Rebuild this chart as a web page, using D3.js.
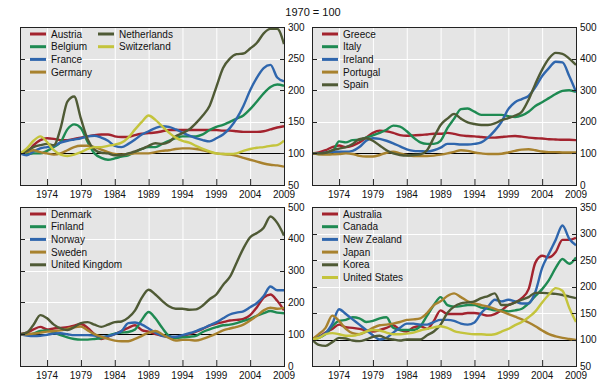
<!DOCTYPE html>
<html><head><meta charset="utf-8">
<script src="https://cdn.jsdelivr.net/npm/d3@7"></script>
<style>body{margin:0;background:#fff}svg{display:block;font-family:"Liberation Sans",Arial,sans-serif}</style>
</head><body>
<svg id="c" width="610" height="383"></svg>
<script>
const years = d3.range(1970, 2010);
const xTickYears = [1974, 1979, 1984, 1989, 1994, 1999, 2004, 2009];
const title = "1970 = 100";

// Panel 1
const austria = [100,102,113,121,124,123,121,121,123,125,127,129,130,130,127,126,126,129,131,132,133,135,137,137,137,137,137,137,137,137,136,136,135,134,134,134,135,138,141,143];
const belgium = [100,99,100,100,104,110,118,138,146,140,118,100,93,90,92,95,97,102,107,110,110,115,120,124,127,127,127,130,137,142,145,150,155,160,170,182,195,205,209,207];
const france = [100,97,103,108,110,112,117,120,122,124,127,128,125,120,112,110,115,122,130,135,140,143,142,138,133,128,124,121,119,124,130,140,155,175,200,220,235,240,220,214];
const germany = [100,102,105,102,100,98,100,105,110,112,112,110,106,102,99,98,99,100,100,100,102,104,105,107,108,108,107,105,102,100,99,98,96,93,90,87,84,82,81,79];
const netherlands = [100,104,110,113,115,113,140,182,190,155,122,106,101,100,97,97,100,103,107,112,116,115,118,127,132,138,148,160,175,205,235,250,257,258,266,275,290,297,297,273];
const switzerland = [100,108,120,127,118,105,98,96,98,102,107,110,110,112,114,117,125,138,150,160,153,143,133,125,120,117,112,107,103,100,99,99,100,104,107,109,110,112,113,120];

// Panel 2
const greece = [100,103,110,120,125,120,125,135,150,165,172,170,165,158,156,157,158,160,162,162,165,162,157,155,154,152,150,150,152,154,155,153,150,148,147,145,144,143,143,142];
const italy = [100,98,100,105,138,135,142,143,150,157,165,175,188,185,170,150,135,130,130,140,180,210,240,242,232,222,222,222,222,218,215,220,232,250,262,275,288,298,300,295];
const ireland = [100,100,103,105,105,105,108,120,140,148,146,140,132,122,113,108,107,106,110,118,130,130,128,128,130,135,150,172,200,240,262,272,282,310,345,370,390,388,345,295];
const portugal = [100,97,96,97,98,100,98,92,90,90,95,102,105,100,95,92,92,92,93,96,100,105,110,108,103,100,98,98,99,103,108,112,113,110,106,104,104,103,103,103];
const spain = [100,100,102,110,115,120,130,145,148,140,125,110,100,95,93,95,97,110,150,190,210,225,210,198,193,190,190,195,205,212,220,232,270,320,365,400,418,415,400,380];

// Panel 3
const denmark = [100,105,115,123,115,118,120,122,127,132,120,100,85,92,100,110,120,128,113,108,100,95,92,88,95,100,108,117,127,133,138,143,145,148,160,185,215,225,205,175];
const finland = [100,98,102,110,112,105,97,90,85,83,83,85,88,95,102,105,107,115,145,170,150,120,95,88,90,92,95,107,115,122,128,130,135,142,148,158,166,173,168,166];
const norway = [100,96,94,95,98,102,103,100,97,97,97,96,92,94,100,110,135,137,130,118,105,95,92,92,97,103,110,118,128,137,150,162,168,172,185,198,220,250,238,238];
const sweden = [100,100,102,105,108,110,112,117,122,124,112,100,92,85,80,78,78,85,95,105,110,100,88,80,82,82,80,85,93,102,112,118,123,130,143,158,175,183,180,183];
const unitedKingdom = [100,105,130,160,150,130,118,113,122,135,138,130,123,130,138,140,152,175,215,240,225,205,188,180,180,177,178,190,210,225,255,280,325,370,405,418,435,470,450,410];

// Panel 4
const australia = [100,105,113,120,128,123,122,120,117,115,118,122,127,118,115,123,125,120,135,155,148,148,148,150,150,148,145,148,155,165,170,178,195,245,258,255,265,288,288,292];
const canada = [100,103,110,125,135,137,142,140,133,135,140,142,122,118,118,118,125,145,165,180,165,162,163,165,165,160,158,155,155,153,155,158,168,182,195,212,235,252,243,255];
const newZealand = [100,105,112,130,157,148,138,128,118,108,100,103,113,122,130,130,128,128,133,137,137,135,130,128,132,150,162,175,172,175,172,168,168,190,235,262,288,315,290,278];
const japan = [100,110,122,145,135,120,112,110,115,122,127,128,130,133,137,138,140,150,165,172,182,187,180,172,168,165,162,158,153,148,143,138,132,125,117,110,106,103,101,99];
const korea = [100,90,88,95,103,102,98,97,100,105,107,102,100,98,100,100,100,108,115,128,150,162,168,170,172,178,182,187,165,165,170,175,180,188,188,187,186,184,181,178];
const unitedStates = [100,103,110,112,110,107,107,110,115,118,117,113,110,110,111,113,117,120,123,125,122,116,113,111,110,110,109,110,115,120,127,133,142,153,170,185,197,192,160,133];

const C = {red:"#a3232e", green:"#1e8a52", blue:"#2f66ad", brown:"#a8822e", olive:"#4f5a35", yellow:"#c4c43c"};

const panels = [
  {box:[20,27,284,185], dom:[50,300], ticks:[50,100,150,200,250,300], legendX:[30,98],
   series:[["Austria",austria,C.red,0],["Belgium",belgium,C.green,0],["France",france,C.blue,0],["Germany",germany,C.brown,0],["Netherlands",netherlands,C.olive,1],["Switzerland",switzerland,C.yellow,1]]},
  {box:[312,27,576,185], dom:[0,500], ticks:[0,100,200,300,400,500], legendX:[322],
   series:[["Greece",greece,C.red,0],["Italy",italy,C.green,0],["Ireland",ireland,C.blue,0],["Portugal",portugal,C.brown,0],["Spain",spain,C.olive,0]]},
  {box:[20,207,284,366], dom:[0,500], ticks:[0,100,200,300,400,500], legendX:[30],
   series:[["Denmark",denmark,C.red,0],["Finland",finland,C.green,0],["Norway",norway,C.blue,0],["Sweden",sweden,C.brown,0],["United Kingdom",unitedKingdom,C.olive,0]]},
  {box:[312,207,576,366], dom:[50,350], ticks:[50,100,150,200,250,300,350], legendX:[322],
   series:[["Australia",australia,C.red,0],["Canada",canada,C.green,0],["New Zealand",newZealand,C.blue,0],["Japan",japan,C.brown,0],["Korea",korea,C.olive,0],["United States",unitedStates,C.yellow,0]]}
];

const svg = d3.select("#c");
svg.append("text").attr("x",313).attr("y",16).attr("text-anchor","middle").attr("font-size",11).attr("fill","#111").text(title);

panels.forEach((p,pi)=>{
  const [x0,y0,x1,y1] = p.box;
  const x = d3.scaleLinear().domain([1970,2009]).range([x0,x1]);
  const y = d3.scaleLinear().domain(p.dom).range([y1,y0]);
  const g = svg.append("g");
  g.append("rect").attr("x",x0).attr("y",y0).attr("width",x1-x0).attr("height",y1-y0).attr("fill","#e5e5e5");
  g.selectAll(".vg").data(xTickYears.slice(0,-1)).join("line")
    .attr("x1",d=>x(d)+0.5).attr("x2",d=>x(d)+0.5).attr("y1",y0).attr("y2",y1).attr("stroke","#fff").attr("stroke-width",1);
  g.selectAll(".hg").data(p.ticks.filter(t=>t!==p.dom[0]&&t!==p.dom[1]&&t!==100)).join("line")
    .attr("x1",x0).attr("x2",x1).attr("y1",d=>Math.round(y(d))+0.5).attr("y2",d=>Math.round(y(d))+0.5).attr("stroke","#fff").attr("stroke-width",1);
  g.append("line").attr("x1",x0).attr("x2",x1).attr("y1",Math.round(y(100))+0.5).attr("y2",Math.round(y(100))+0.5).attr("stroke","#000").attr("stroke-width",1);
  const clipId = "clip"+pi;
  svg.append("clipPath").attr("id",clipId).append("rect").attr("x",x0).attr("y",y0).attr("width",x1-x0).attr("height",y1-y0);
  const line = d3.line().x((d,i)=>x(years[i])).y(d=>y(d)).curve(d3.curveMonotoneX);
  const lg = g.append("g").attr("clip-path",`url(#${clipId})`);
  p.series.forEach(s=>{
    lg.append("path").attr("d",line(s[1])).attr("fill","none").attr("stroke",s[2]).attr("stroke-width",2.4).attr("stroke-linejoin","round");
  });
  g.append("rect").attr("x",x0+0.5).attr("y",y0+0.5).attr("width",x1-x0).attr("height",y1-y0).attr("fill","none").attr("stroke","#222").attr("stroke-width",1);
  g.selectAll(".xt").data(xTickYears.slice(0,-1)).join("line")
    .attr("x1",d=>x(d)+0.5).attr("x2",d=>x(d)+0.5).attr("y1",y1).attr("y2",y1-6).attr("stroke","#222");
  g.selectAll(".ytl").data(p.ticks).join("line")
    .attr("x1",x0).attr("x2",x0+5).attr("y1",d=>Math.round(y(d))+0.5).attr("y2",d=>Math.round(y(d))+0.5).attr("stroke","#222");
  g.selectAll(".ytr").data(p.ticks).join("line")
    .attr("x1",x1-4).attr("x2",x1).attr("y1",d=>Math.round(y(d))+0.5).attr("y2",d=>Math.round(y(d))+0.5).attr("stroke","#222");
  g.selectAll(".xl").data(xTickYears).join("text")
    .attr("x",d=>x(d)).attr("y",y1+13).attr("text-anchor","middle").attr("font-size",10).attr("fill","#111").text(d=>d);
  g.selectAll(".yl").data(p.ticks).join("text")
    .attr("x",x1+4).attr("y",d=>y(d)+3.5).attr("font-size",10).attr("fill","#111").text(d=>d);
  const rowCount = [0,0];
  p.series.forEach(s=>{
    const col = s[3];
    const lx = p.legendX[col];
    const ly = y0 + 7 + rowCount[col]*12.7;
    rowCount[col]++;
    g.append("line").attr("x1",lx).attr("x2",lx+16).attr("y1",ly).attr("y2",ly).attr("stroke",s[2]).attr("stroke-width",3);
    g.append("text").attr("x",lx+21).attr("y",ly+3.6).attr("font-size",10).attr("fill","#111").text(s[0]);
  });
});
</script>
</body></html>
